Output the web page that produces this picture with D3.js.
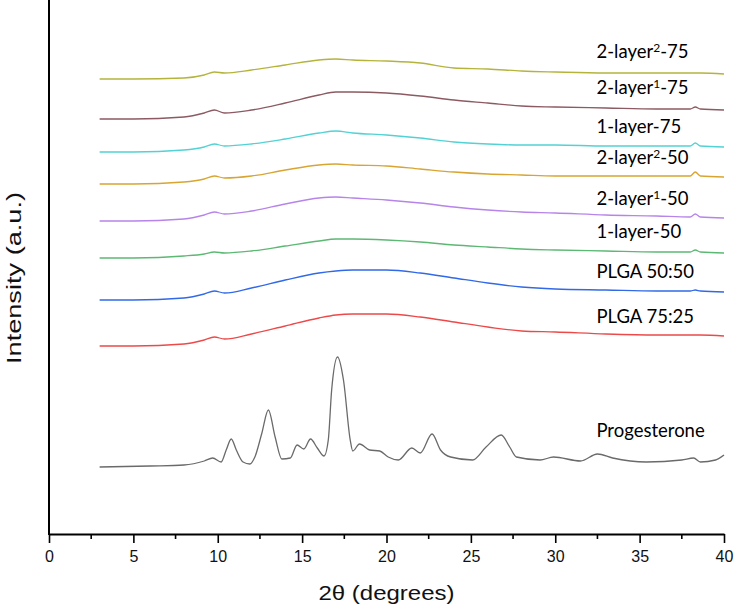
<!DOCTYPE html>
<html>
<head>
<meta charset="utf-8">
<script src="https://cdn.jsdelivr.net/npm/d3@7"></script>
<style>
  body { margin: 0; background: #fff; }
  svg { display: block; }
</style>
</head>
<body>
<div id="chart"></div>
<script>
// 2-theta grid shared by the amorphous (polymer) patterns
let thetaGrid = [3, 5, 8, 9.2, 9.8, 10.4, 12, 14, 16, 17, 18, 20, 22, 24, 26, 28, 30, 33, 36, 38, 38.3, 38.6, 40];

// intensities (a.u., stacked)
let layer2b75 = [455, 455, 456, 459, 462, 461, 464, 469, 474, 475, 474, 473, 471, 466, 465, 463, 462, 461, 461, 461, 461, 461, 460];
let layer2a75 = [415, 415, 417, 421, 424, 421, 424, 431, 439, 442, 442, 441, 438, 434, 431, 428, 427, 426, 425, 425, 427, 425, 424];
let layer1_75 = [382, 382, 384, 387, 390, 388, 390, 395, 401, 403, 401, 399, 396, 392, 390, 389, 389, 388, 388, 388, 391, 388, 387];
let layer2b50 = [350, 350, 352, 355, 358, 356, 358, 364, 369, 370, 369, 368, 365, 362, 360, 359, 358, 358, 358, 358, 362, 358, 357];
let layer2a50 = [313, 313, 315, 319, 322, 320, 323, 330, 336, 337, 336, 334, 331, 327, 324, 322, 321, 319, 318, 317, 320, 317, 316];
let layer1_50 = [276, 276, 278, 280, 282, 281, 283, 288, 293, 295, 295, 294, 292, 289, 287, 285, 284, 283, 282, 282, 284, 282, 281];
let plga5050 = [234, 234, 236, 240, 243, 241, 246, 254, 261, 263, 264, 264, 261, 256, 251, 247, 245, 244, 243, 243, 244, 243, 242];
let plga7525 = [188, 188, 190, 194, 197, 195, 200, 208, 216, 219, 220, 220, 217, 212, 207, 203, 202, 200, 199, 199, 199, 199, 198];

// crystalline progesterone pattern
let progTheta = [3, 6, 8, 9.2, 9.7, 10.2, 10.5, 10.8, 11.1, 11.5, 11.9, 12.2, 12.6, 13.0, 13.4, 13.8, 14.3, 14.7, 15.1, 15.5, 15.9, 16.3,
    16.55, 16.75, 17.1, 17.45, 17.85, 18.0, 18.4, 19.0, 19.6, 20.1, 20.7, 21.5, 22.0, 22.7, 23.2, 23.8, 25.1, 25.9, 26.8, 27.3, 27.7,
    29.1, 29.9, 31.5, 32.5, 33.4, 35.4, 37.5, 38.2, 38.6, 39.5, 40];
let progesterone = [67, 68, 69, 73, 76, 72, 84, 95, 84, 72, 70, 77, 100, 124, 97, 75, 76, 89, 85, 95, 86, 78,
    94, 144, 177, 154, 94, 83, 90, 84, 83, 77, 74, 86, 81, 100, 84, 77, 74, 87, 99, 87, 77,
    74, 77, 73, 80, 76, 72, 74, 76, 72, 74, 79];

let sampleNames = ["2-layer²-75", "2-layer¹-75", "1-layer-75", "2-layer²-50", "2-layer¹-50", "1-layer-50", "PLGA 50:50", "PLGA 75:25", "Progesterone"];
let sampleColors = ["#b4b43c", "#8c5a62", "#52d2d4", "#d8a532", "#b784ea", "#5db874", "#3169e8", "#ec4a4a", "#6a6a6a"];

let xTicks = [0, 5, 10, 15, 20, 25, 30, 35, 40];

// gap (px) between each curve and its label
let labelGap = [15, 14, 13, 12, 10, 13, 12, 11, 17];

let width = 735, height = 611;
let margin = {left: 49, right: 11, top: 2, bottom: 77};

let svg = d3.select("#chart").append("svg")
    .attr("width", width)
    .attr("height", height);

let x = d3.scaleLinear().domain([0, 40]).range([margin.left, width - margin.right]);
let y = d3.scaleLinear().domain([0, 532]).range([height - margin.bottom, margin.top]);

// build series
let amorphous = [layer2b75, layer2a75, layer1_75, layer2b50, layer2a50, layer1_50, plga5050, plga7525];
let series = amorphous.map((vals, i) => ({
    name: sampleNames[i],
    color: sampleColors[i],
    gap: labelGap[i],
    points: vals.map((v, j) => [thetaGrid[j], v])
}));
series.push({
    name: sampleNames[8],
    color: sampleColors[8],
    gap: labelGap[8],
    points: progesterone.map((v, j) => [progTheta[j], v])
});

let line = d3.line()
    .x(d => x(d[0]))
    .y(d => y(d[1]))
    .curve(d3.curveMonotoneX);

svg.append("g")
    .selectAll("path")
    .data(series)
    .join("path")
    .attr("fill", "none")
    .attr("stroke", d => d.color)
    .attr("stroke-width", 1.3)
    .attr("d", d => line(d.points));

// labels sit a little above each curve, near 2theta = 32.5
let labelTheta = 32.5;
function valueAt(points, t) {
    let i = d3.bisector(d => d[0]).left(points, t);
    let a = points[Math.max(i - 1, 0)], b = points[Math.min(i, points.length - 1)];
    if (a[0] === b[0]) return a[1];
    return a[1] + (b[1] - a[1]) * (t - a[0]) / (b[0] - a[0]);
}

let labels = svg.append("g")
    .attr("font-family", "Lato, 'Open Sans', sans-serif")
    .attr("font-size", "18.5px")
    .attr("fill", "#000")
    .selectAll("text")
    .data(series)
    .join("text")
    .attr("x", x(labelTheta) - 1)
    .attr("y", d => y(valueAt(d.points, labelTheta)) - d.gap);

// superscripts as tspans
labels.each(function(d) {
    let t = d3.select(this);
    let m = d.name.match(/^(.*?)([¹²])(.*)$/);
    if (!m) { t.text(d.name); return; }
    t.append("tspan").text(m[1]);
    t.append("tspan").attr("font-size", "12px").attr("dy", "-6").text(m[2] === "¹" ? "1" : "2");
    t.append("tspan").attr("dy", "6").text(m[3]);
});

// x axis
let xAxis = svg.append("g")
    .attr("transform", `translate(0,${y(0)})`)
    .call(d3.axisBottom(x).tickValues(xTicks).tickSize(9).tickPadding(8).tickSizeOuter(0));
xAxis.select(".domain").attr("stroke-width", 2);
xAxis.selectAll(".tick line").attr("stroke-width", 1.6);
xAxis.selectAll(".tick text")
    .attr("font-family", "Arial, 'Liberation Sans', sans-serif")
    .attr("font-size", "16px")
    .attr("fill", "#111");

// minor ticks
svg.append("g")
    .selectAll("line")
    .data(d3.range(2.5, 40, 5))
    .join("line")
    .attr("x1", d => x(d)).attr("x2", d => x(d))
    .attr("y1", y(0)).attr("y2", y(0) + 5)
    .attr("stroke", "#000")
    .attr("stroke-width", 1.6);

// y axis (line only)
svg.append("line")
    .attr("x1", x(0)).attr("x2", x(0))
    .attr("y1", margin.top - 2).attr("y2", y(0) + 1)
    .attr("stroke", "#000")
    .attr("stroke-width", 2);

// axis titles
svg.append("text")
    .attr("x", (x(0) + x(40)) / 2)
    .attr("y", 600)
    .attr("text-anchor", "middle")
    .attr("font-family", "Arial, 'Liberation Sans', sans-serif")
    .attr("font-size", "21px")
    .attr("textLength", 136)
    .attr("lengthAdjust", "spacingAndGlyphs")
    .attr("fill", "#111")
    .text("2θ (degrees)");

svg.append("text")
    .attr("transform", "translate(21,278) rotate(-90)")
    .attr("text-anchor", "middle")
    .attr("font-family", "Arial, 'Liberation Sans', sans-serif")
    .attr("font-size", "21px")
    .attr("textLength", 172)
    .attr("lengthAdjust", "spacingAndGlyphs")
    .attr("fill", "#111")
    .text("Intensity (a.u.)");
</script>
</body>
</html>
